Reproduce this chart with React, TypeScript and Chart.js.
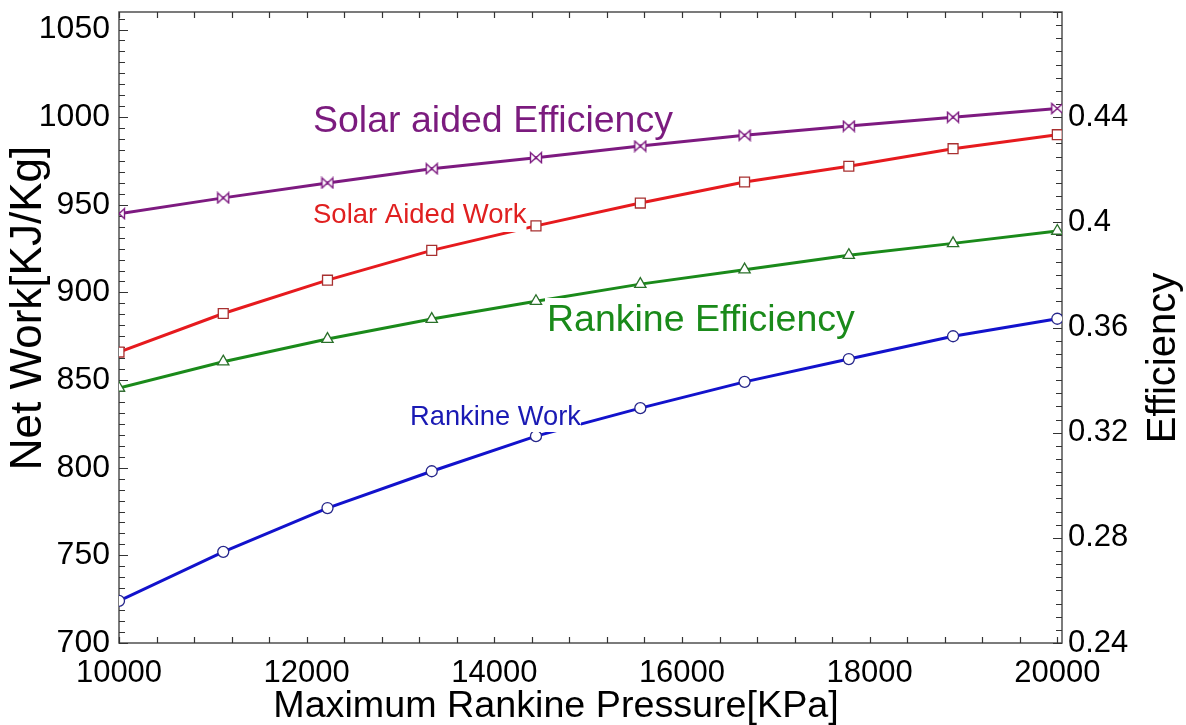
import React, { useEffect, useRef } from "react";
import { Chart, registerables } from "chart.js";

Chart.register(...registerables);

const pressure = [10000, 11111, 12222, 13333, 14444, 15556, 16667, 17778, 18889, 20000];
const rankineWork = [724, 752, 777, 798, 818, 834, 849, 862, 875, 885];
const solarWork = [866, 888, 907, 924, 938, 951, 963, 972, 982, 990];
const rankineEff = [0.337, 0.347, 0.3556, 0.3632, 0.37, 0.3765, 0.382, 0.3875, 0.392, 0.3967];
const solarEff = [0.4033, 0.4093, 0.415, 0.4204, 0.4246, 0.429, 0.4331, 0.4366, 0.44, 0.4433];

const xTicks = [10000, 12000, 14000, 16000, 18000, 20000];
const leftTicks = [700, 750, 800, 850, 900, 950, 1000, 1050];
const rightTicks = [0.24, 0.28, 0.32, 0.36, 0.4, 0.44];
const rightTickLabels = ["0.24", "0.28", "0.32", "0.36", "0.4", "0.44"];

const FONT = '"Liberation Sans", Arial, sans-serif';

function makeBowtie(color: string) {
  const c = document.createElement("canvas");
  c.width = 14;
  c.height = 13;
  const g = c.getContext("2d")!;
  g.beginPath();
  g.moveTo(1.5, 1.5);
  g.lineTo(12.5, 11.5);
  g.lineTo(12.5, 1.5);
  g.lineTo(1.5, 11.5);
  g.closePath();
  g.fillStyle = "#ffffff";
  g.fill();
  g.lineWidth = 1.4;
  g.strokeStyle = color;
  g.stroke();
  return c;
}

const annotations = [
  { text: "Solar aided Efficiency", x: 313, y: 132, size: 37.5, color: "#7b1b7e", below: 5 },
  { text: "Solar Aided Work", x: 313, y: 223, size: 27.5, color: "#e02020", below: 9 },
  { text: "Rankine Efficiency", x: 547, y: 331, size: 37.5, color: "#1a8a1a", below: 9 },
  { text: "Rankine Work", x: 410, y: 425, size: 27.3, color: "#1a1ab4", below: 7 },
];

const decorPlugin = {
  id: "decor",
  beforeDatasetsDraw(chart: any) {
    const { ctx, chartArea, scales } = chart;
    const { left, right, top, bottom } = chartArea;
    ctx.save();
    ctx.strokeStyle = "#505050";
    ctx.lineWidth = 1.5;
    ctx.strokeRect(left, top, right - left, bottom - top);
    ctx.lineWidth = 1.2;
    ctx.strokeStyle = "#333333";
    ctx.beginPath();
    for (let i = 0; i <= 25; i++) {
      const v = 10000 + i * 400;
      const px = Math.round(scales.x.getPixelForValue(v)) + 0.5;
      ctx.moveTo(px, bottom);
      ctx.lineTo(px, bottom - 6);
      ctx.moveTo(px, top);
      ctx.lineTo(px, top + 6);
    }
    for (let i = 0; i <= 57; i++) {
      const v = 700 + i * 6.25;
      const py = Math.round(scales.y.getPixelForValue(v)) + 0.5;
      const len = i % 8 === 0 ? 9 : 6;
      ctx.moveTo(left, py);
      ctx.lineTo(left + len, py);
    }
    for (let i = 0; i <= 48; i++) {
      const v = 0.24 + i * 0.005;
      const py = Math.round(scales.y1.getPixelForValue(v)) + 0.5;
      const len = i % 8 === 0 ? 9 : 6;
      ctx.moveTo(right, py);
      ctx.lineTo(right - len, py);
    }
    ctx.stroke();
    ctx.restore();
  },
  afterDatasetsDraw(chart: any) {
    const { ctx } = chart;
    ctx.save();
    for (const a of annotations) {
      ctx.font = `${a.size}px ${FONT}`;
      const w = ctx.measureText(a.text).width;
      const topY = a.y - a.size * 0.88;
      ctx.fillStyle = "#ffffff";
      ctx.fillRect(a.x - 2, topY, w + 2, a.y + a.below - topY);
      ctx.fillStyle = a.color;
      ctx.textAlign = "left";
      ctx.textBaseline = "alphabetic";
      ctx.fillText(a.text, a.x, a.y);
    }
    ctx.restore();
  },
  afterDraw(chart: any) {
    const { ctx } = chart;
    ctx.save();
    ctx.fillStyle = "#000000";
    ctx.textAlign = "center";
    ctx.textBaseline = "middle";
    ctx.font = `44px ${FONT}`;
    ctx.translate(29, 308);
    ctx.rotate(-Math.PI / 2);
    ctx.fillText("Net Work[KJ/Kg]", 0, 0);
    ctx.restore();

    ctx.save();
    ctx.fillStyle = "#000000";
    ctx.textAlign = "center";
    ctx.textBaseline = "middle";
    ctx.font = `40px ${FONT}`;
    ctx.translate(1164, 358);
    ctx.rotate(-Math.PI / 2);
    ctx.fillText("Efficiency", 0, 0);
    ctx.restore();

    ctx.save();
    ctx.fillStyle = "#000000";
    ctx.textAlign = "center";
    ctx.textBaseline = "alphabetic";
    ctx.font = `37.7px ${FONT}`;
    ctx.fillText("Maximum Rankine Pressure[KPa]", 556, 717);
    ctx.restore();
  },
};

export default function App() {
  const ref = useRef<HTMLCanvasElement | null>(null);

  useEffect(() => {
    document.body.style.margin = "0";
    document.body.style.overflow = "hidden";
    const canvas = ref.current!;
    const pts = (ys: number[]) => pressure.map((x, i) => ({ x, y: ys[i] }));
    const chart = new Chart(canvas, {
      type: "line",
      data: {
        datasets: [
          {
            label: "Rankine Work",
            data: pts(rankineWork),
            yAxisID: "y",
            borderColor: "#1212cc",
            borderWidth: 3,
            pointStyle: "circle",
            pointRadius: 5.5,
            pointBorderWidth: 1.3,
            pointBorderColor: "#26268a",
            pointBackgroundColor: "#ffffff",
            tension: 0,
          },
          {
            label: "Solar Aided Work",
            data: pts(solarWork),
            yAxisID: "y",
            borderColor: "#e61a1e",
            borderWidth: 3,
            pointStyle: "rect",
            pointRadius: 7,
            pointBorderWidth: 1.3,
            pointBorderColor: "#a83030",
            pointBackgroundColor: "#ffffff",
            tension: 0,
          },
          {
            label: "Rankine Efficiency",
            data: pts(rankineEff),
            yAxisID: "y1",
            borderColor: "#1a8a1a",
            borderWidth: 3,
            pointStyle: "triangle",
            pointRadius: 6.5,
            pointBorderWidth: 1.3,
            pointBorderColor: "#2a702a",
            pointBackgroundColor: "#ffffff",
            tension: 0,
          },
          {
            label: "Solar aided Efficiency",
            data: pts(solarEff),
            yAxisID: "y1",
            borderColor: "#7d1a80",
            borderWidth: 3,
            pointStyle: makeBowtie("#7d1a80") as any,
            pointRadius: 6,
            tension: 0,
          },
        ],
      },
      options: {
        responsive: false,
        animation: false,
        events: [],
        layout: { padding: { top: 12, left: 0, right: 0, bottom: 0 } },
        plugins: { legend: { display: false }, tooltip: { enabled: false } },
        scales: {
          x: {
            type: "linear",
            position: "bottom",
            min: 10000,
            max: 20050,
            grid: { display: false, drawTicks: false },
            border: { display: false },
            afterBuildTicks: (s: any) => {
              s.ticks = xTicks.map((v) => ({ value: v }));
            },
            afterFit: (s: any) => {
              s.height = 82;
              s.paddingLeft = 0;
              s.paddingRight = 0;
            },
            ticks: {
              color: "#000",
              padding: 12,
              maxRotation: 0,
              autoSkip: false,
              font: { family: FONT, size: 31 },
              callback: (v: any) => String(v),
            },
          },
          y: {
            type: "linear",
            position: "left",
            min: 700,
            max: 1060,
            grid: { display: false, drawTicks: false },
            border: { display: false },
            afterBuildTicks: (s: any) => {
              s.ticks = leftTicks.map((v) => ({ value: v }));
            },
            afterFit: (s: any) => {
              s.width = 119;
              s.paddingTop = 0;
              s.paddingBottom = 0;
            },
            ticks: {
              color: "#000",
              padding: 9,
              autoSkip: false,
              font: { family: FONT, size: 32 },
              callback: (v: any) => String(v),
            },
          },
          y1: {
            type: "linear",
            position: "right",
            min: 0.24,
            max: 0.48,
            grid: { display: false, drawTicks: false },
            border: { display: false },
            afterBuildTicks: (s: any) => {
              s.ticks = rightTicks.map((v) => ({ value: v }));
            },
            afterFit: (s: any) => {
              s.width = 124;
              s.paddingTop = 0;
              s.paddingBottom = 0;
            },
            ticks: {
              color: "#000",
              padding: 6,
              autoSkip: false,
              font: { family: FONT, size: 31 },
              callback: (_v: any, i: number) => rightTickLabels[i],
            },
          },
        },
      },
      plugins: [decorPlugin],
    });
    return () => chart.destroy();
  }, []);

  return (
    <div style={{ width: 1186, height: 725, background: "#fff" }}>
      <canvas ref={ref} width={1186} height={725} style={{ display: "block" }} />
    </div>
  );
}
